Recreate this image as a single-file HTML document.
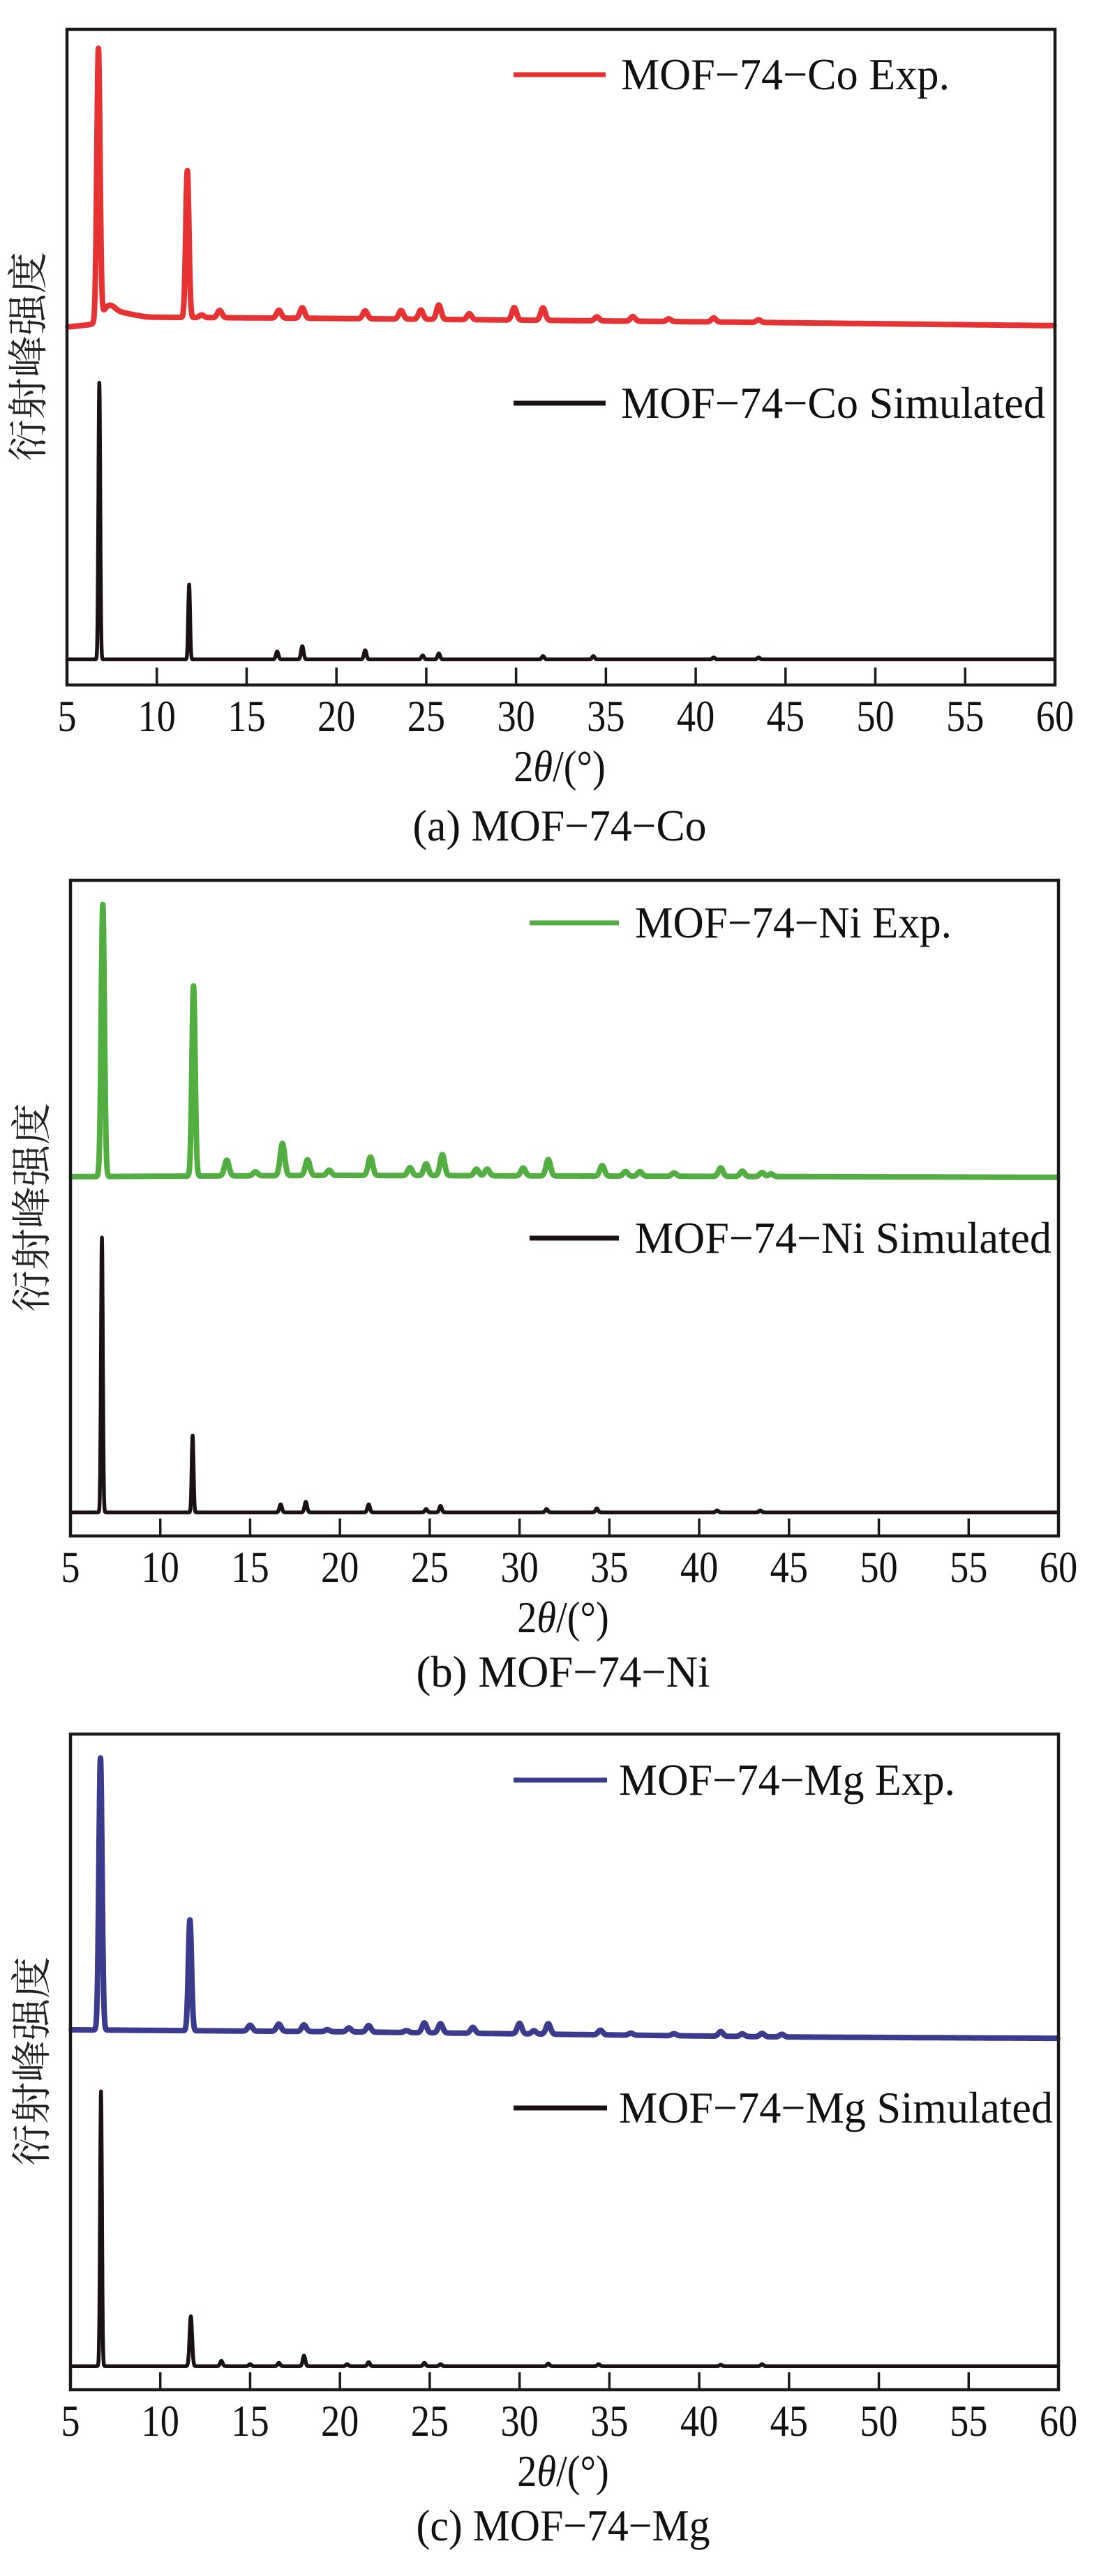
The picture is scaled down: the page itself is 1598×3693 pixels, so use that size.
<!DOCTYPE html>
<html><head><meta charset="utf-8">
<style>
html,body{margin:0;padding:0;background:#fff;}
svg{display:block;}
</style></head>
<body>
<svg id="fig" width="1598" height="3693" viewBox="0 0 1598 3693" xmlns="http://www.w3.org/2000/svg"></svg>
<script>
// ---- data (2θ in degrees, intensity in % of panel height) ----
const xTicks = [5,10,15,20,25,30,35,40,45,50,55,60];
const panelNames = ["co","ni","mg"];
const panelCaptions = ["(a) MOF\u221274\u2212Co","(b) MOF\u221274\u2212Ni","(c) MOF\u221274\u2212Mg"];
const expLabels = ["MOF\u221274\u2212Co Exp.","MOF\u221274\u2212Ni Exp.","MOF\u221274\u2212Mg Exp."];
const simLabels = ["MOF\u221274\u2212Co Simulated","MOF\u221274\u2212Ni Simulated","MOF\u221274\u2212Mg Simulated"];
const expColors = ["#e63232","#52ae40","#3b3b8e"];

// baselines: [2θ, level]
const coExpBase = [[5,54.6],[6.5,55.0],[9,56.1],[20,55.9],[40,55.4],[60,54.8]];
const niExpBase = [[5,54.8],[20,55.0],[60,54.7]];
const mgExpBase = [[5,54.9],[20,54.6],[45,53.8],[60,53.6]];
const coSimBase = [[5,3.9],[60,3.9]];
const niSimBase = [[5,3.6],[60,3.6]];
const mgSimBase = [[5,3.6],[60,3.6]];

// peaks: [2θ, height above baseline, optional width]
const coExpPeaks = [[6.75,41.3],[7.3,2.0,0.35],[8.0,1.0,0.6],[11.7,22.4],[12.5,0.4],[13.5,1.1],[16.8,1.2],[18.1,1.6],[21.6,1.2],[23.6,1.3],[24.7,1.4],[25.7,2.2],[27.4,0.9],[29.9,1.9],[31.5,1.9],[34.5,0.6],[36.5,0.7],[38.5,0.4],[41.0,0.6],[43.5,0.4]];
const niExpPeaks = [[6.8,41.5],[11.85,29.0],[13.7,2.4],[15.3,0.6],[16.8,4.9],[18.2,2.4],[19.4,0.8],[21.7,2.8],[23.9,1.2],[24.8,1.8],[25.7,3.2],[27.6,1.0],[28.2,1.0],[30.2,1.2],[31.6,2.5],[34.6,1.6],[35.9,0.7],[36.7,0.7],[38.6,0.5],[41.2,1.3],[42.4,0.8],[43.5,0.6],[44.0,0.4]];
const mgExpPeaks = [[6.67,41.5],[11.65,16.9],[15.0,0.9],[16.6,1.1],[18.0,1.0],[19.3,0.3],[20.5,0.6],[21.6,1.0],[23.7,0.3],[24.7,1.5],[25.6,1.4],[27.4,0.9],[30.0,1.6],[30.8,0.5],[31.6,1.6],[34.5,0.7],[36.2,0.3],[38.6,0.3],[41.2,0.7],[42.4,0.4],[43.5,0.5],[44.6,0.4]];
const coSimPeaks = [[6.8,42.2],[11.8,11.4],[16.7,1.2],[18.1,2.0],[21.6,1.4],[24.8,0.6],[25.7,0.9],[31.5,0.5],[34.3,0.5],[41.0,0.3],[43.5,0.3]];
const niSimPeaks = [[6.75,41.9],[11.8,11.7],[16.7,1.2],[18.1,1.6],[21.6,1.2],[24.8,0.5],[25.6,1.0],[31.5,0.5],[34.3,0.6],[41.0,0.3],[43.4,0.3]];
const mgSimPeaks = [[6.7,41.9],[11.7,7.6],[13.4,0.8],[15.0,0.3],[16.6,0.5],[18.0,1.6],[20.4,0.3],[21.6,0.6],[24.7,0.5],[25.6,0.3],[31.6,0.4],[34.4,0.3],[41.2,0.2],[43.5,0.3]];

const expBases = [coExpBase,niExpBase,mgExpBase];
const simBases = [coSimBase,niSimBase,mgSimBase];
const expPeaksAll = [coExpPeaks,niExpPeaks,mgExpPeaks];
const simPeaksAll = [coSimPeaks,niSimPeaks,mgSimPeaks];

// ---- layout ----
const panelLeft = [96,101,101];
const panelTop = [42,1262,2486];
const PW = 1416, PH = 940;
const NS = "http://www.w3.org/2000/svg";
const svg = document.getElementById('fig');
const SERIF = '"Liberation Serif","Times New Roman",serif';

function mk(tag, attrs, parent){
  const e = document.createElementNS(NS, tag);
  for (const k in attrs) e.setAttribute(k, attrs[k]);
  (parent||svg).appendChild(e);
  return e;
}
function baseAt(base, x){
  for (let i=0;i<base.length-1;i++){
    if (x>=base[i][0] && x<=base[i+1][0]){
      const t=(x-base[i][0])/(base[i+1][0]-base[i][0]);
      return base[i][1]+t*(base[i+1][1]-base[i][1]);
    }
  }
  return base[base.length-1][1];
}
function curve(base, peaks, sig, x){
  let v = baseAt(base,x);
  for (const p of peaks){
    const s = p.length>2 ? p[2] : (p[1]>10 ? sig : sig*1.4);
    const d=(x-p[0])/s;
    if (Math.abs(d)<8) v += p[1]*Math.exp(-0.5*d*d);
  }
  return v;
}

for (let i=0;i<3;i++){
  const L=panelLeft[i], T=panelTop[i], B=T+PH;
  const xs = v => L + (v-5)/55*PW;
  const ys = v => B - v/100*PH;
  const g = mk('g',{});
  
  

  const series = [[expBases[i],expPeaksAll[i],0.09,expColors[i],8,'exp'],[simBases[i],simPeaksAll[i],0.05,'#1a1212',5.5,'sim']];
  for (const s of series){
    let d='';
    for (let x=5.05;x<=59.95;x+=0.01){
      d += (d?'L':'M')+xs(x).toFixed(1)+','+ys(curve(s[0],s[1],s[2],x)).toFixed(1);
    }
    const p = mk('path',{d:d,fill:'none',stroke:s[3],'stroke-width':s[4],'stroke-linejoin':'round','stroke-linecap':'round'},g);
    
    
  }

  const fr = mk('rect',{x:L,y:T,width:PW,height:PH,fill:'none',stroke:'#1a1a1a','stroke-width':4.5},g);
  
  

  for (const t of xTicks){
    if (t>5 && t<60){
      const tk = mk('line',{x1:xs(t),x2:xs(t),y1:B,y2:B-25,stroke:'#1a1a1a','stroke-width':3.5},g);
      
      
    }
    const lb = mk('text',{transform:'translate('+xs(t)+','+(B+66)+') scale(0.85,1)','text-anchor':'middle','font-family':SERIF,'font-size':64,fill:'#111'},g);
    lb.textContent = t;
    
    
  }

  const xt = mk('text',{transform:'translate('+(L+706)+','+(B+138)+') scale(0.88,1)','text-anchor':'middle','font-family':SERIF,'font-size':64,fill:'#111'},g);
  xt.innerHTML = '2<tspan font-style="italic">\u03b8</tspan>/(\u00b0)';
  
  

  const yt = mk('text',{transform:'translate('+(L-55)+','+(T+469)+') rotate(-90)','text-anchor':'middle','dominant-baseline':'central','font-family':'"Liberation Serif","Noto Serif CJK SC",serif','font-size':58,fill:'#222',textLength:300,lengthAdjust:'spacingAndGlyphs'},g);
  yt.textContent = '衍射峰强度';
  
  

  const cap = mk('text',{x:L+706,y:B+(i==0?223:216),'text-anchor':'middle','font-family':SERIF,'font-size':64,fill:'#111',textLength:421,lengthAdjust:'spacingAndGlyphs'},g);
  cap.textContent = panelCaptions[i];
  
  

  const legY = [[65,536],[61,513],[66,536]][i];
  const legX = [[736,868,890,471,608],[759,887,910,454,597],[736,870,887,482,622]][i];
  const lg = [[expLabels[i],expColors[i],legY[0],legX[3],'exp'],[simLabels[i],'#1a1212',legY[1],legX[4],'sim']];
  for (const e of lg){
    const ll = mk('line',{x1:legX[0],x2:legX[1],y1:T+e[2],y2:T+e[2],stroke:e[1],'stroke-width':7},g);
    
    
    const lt = mk('text',{x:legX[2],y:T+e[2]+21,'font-family':SERIF,'font-size':64,fill:'#111',textLength:e[3],lengthAdjust:'spacingAndGlyphs'},g);
    lt.textContent = e[0];
    
    
  }
}
</script>
</body></html>
